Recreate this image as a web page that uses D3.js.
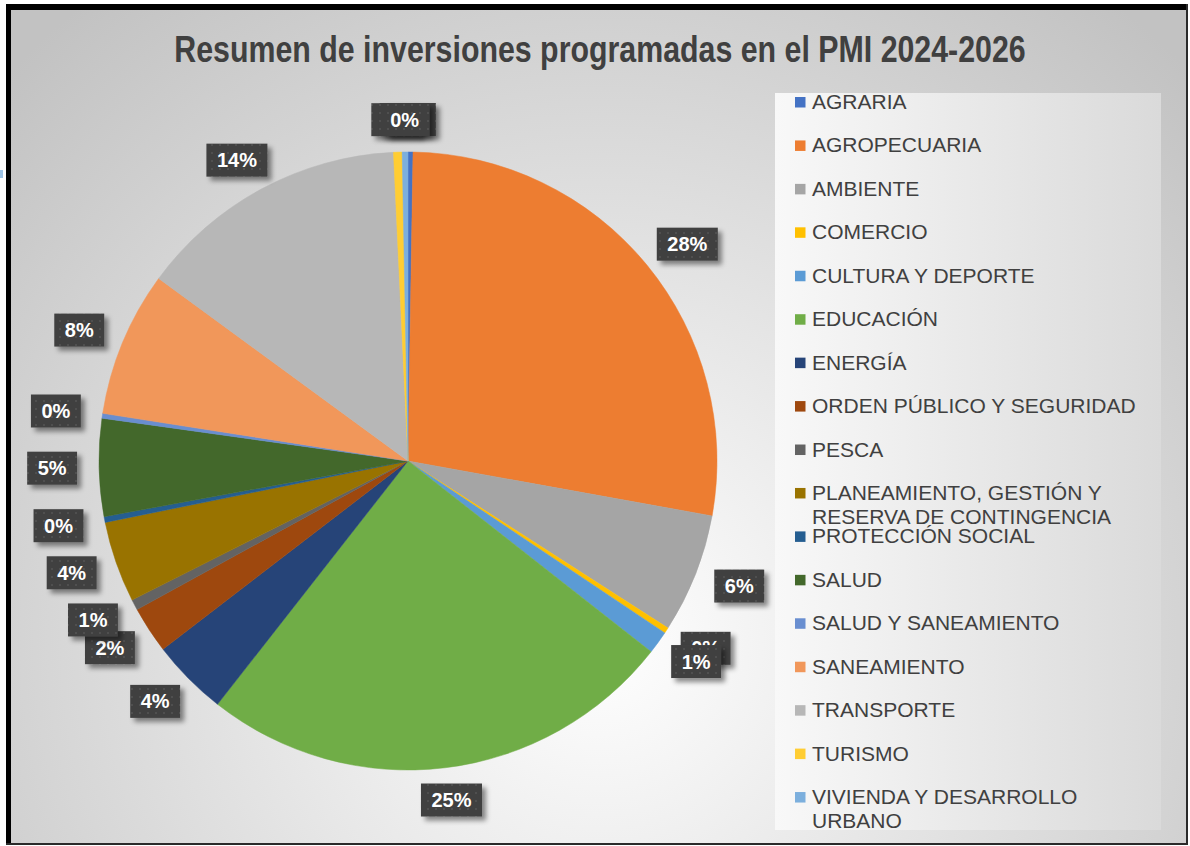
<!DOCTYPE html>
<html>
<head>
<meta charset="utf-8">
<script src="https://cdn.jsdelivr.net/npm/d3@7"></script>
<style>
  body { margin: 0; background: #ffffff; }
  text { font-family: "Liberation Sans", Arial, sans-serif; }
</style>
</head>
<body>
<script>
// categories and their share of the programmed investment
const categories = ["AGRARIA", "AGROPECUARIA", "AMBIENTE", "COMERCIO", "CULTURA Y DEPORTE",
  "EDUCACIÓN", "ENERGÍA", "ORDEN PÚBLICO Y SEGURIDAD", "PESCA",
  "PLANEAMIENTO, GESTIÓN Y RESERVA DE CONTINGENCIA", "PROTECCIÓN SOCIAL", "SALUD",
  "SALUD Y SANEAMIENTO", "SANEAMIENTO", "TRANSPORTE", "TURISMO", "VIVIENDA Y DESARROLLO URBANO"];
const shares = [0.26, 27.6, 6.25, 0.3, 1.2, 25.0, 4.0, 2.45, 0.55, 4.25, 0.3, 5.1, 0.25, 7.6, 14.2, 0.45, 0.3];

const colors = [
  "#4472C4", "#ED7D31", "#A5A5A5", "#FFC000", "#5B9BD5", "#70AD47", "#264478", "#9E480E",
  "#636363", "#997300", "#255E91", "#43682B", "#698ED0", "#F1975A", "#B7B7B7", "#FFCD33", "#7CAFDD"
];

const title = "Resumen de inversiones programadas en el PMI 2024-2026";

const width = 1190, height = 846;

const svg = d3.select("body")
  .append("svg")
  .attr("width", width)
  .attr("height", height);

const defs = svg.append("defs");

// chart area background: soft radial grey
const bg = defs.append("radialGradient")
  .attr("id", "bg")
  .attr("gradientUnits", "userSpaceOnUse")
  .attr("cx", 600).attr("cy", 640).attr("r", 820);
bg.append("stop").attr("offset", 0).attr("stop-color", "#ffffff");
bg.append("stop").attr("offset", 1).attr("stop-color", "#c2c2c2");

const lg = defs.append("linearGradient")
  .attr("id", "legbg")
  .attr("x1", 0).attr("y1", 0).attr("x2", 1).attr("y2", 0);
lg.append("stop").attr("offset", 0).attr("stop-color", "#f8f8f8");
lg.append("stop").attr("offset", 1).attr("stop-color", "#dadada");

// dotted dark fill of the data labels
const pat = defs.append("pattern")
  .attr("id", "dots")
  .attr("patternUnits", "userSpaceOnUse")
  .attr("width", 8).attr("height", 8);
pat.append("rect").attr("width", 8).attr("height", 8).attr("fill", "#404040");
pat.append("rect").attr("x", 3).attr("y", 3).attr("width", 2).attr("height", 2).attr("fill", "#505050");

const shadow = defs.append("filter")
  .attr("id", "shadow")
  .attr("x", "-30%").attr("y", "-30%").attr("width", "170%").attr("height", "170%");
shadow.append("feDropShadow")
  .attr("dx", 4).attr("dy", 4).attr("stdDeviation", 2.5)
  .attr("flood-color", "#000").attr("flood-opacity", 0.45);

// frame
svg.append("rect").attr("x", 11).attr("y", 10).attr("width", 1176).attr("height", 833)
  .attr("fill", "url(#bg)");
svg.append("rect").attr("x", 6).attr("y", 4).attr("width", 5).attr("height", 841).attr("fill", "#000");
svg.append("rect").attr("x", 6).attr("y", 4).attr("width", 1181).attr("height", 6).attr("fill", "#000");
svg.append("rect").attr("x", 1186).attr("y", 4).attr("width", 2).attr("height", 841).attr("fill", "#2a2a2a");
svg.append("rect").attr("x", 6).attr("y", 843).attr("width", 1182).attr("height", 2).attr("fill", "#2a2a2a");
svg.append("rect").attr("x", 0).attr("y", 170).attr("width", 3).attr("height", 8).attr("fill", "#9dc3e6");

// title
svg.append("text")
  .attr("x", 600)
  .attr("y", 62)
  .attr("text-anchor", "middle")
  .attr("transform", "translate(600, 0) scale(0.82, 1) translate(-600, 0)")
  .style("font-size", "37px")
  .style("font-weight", "bold")
  .style("fill", "#404040")
  .text(title);

// pie
const cx = 408, cy = 461, r = 309;
const total = d3.sum(shares);
const data = categories.map((c, i) => ({ name: c, value: shares[i], color: colors[i] }));

const pie = d3.pie().sort(null).value(d => d.value);
const arcs = pie(data);
const arc = d3.arc().innerRadius(0).outerRadius(r);

const g = svg.append("g").attr("transform", `translate(${cx}, ${cy})`);

g.selectAll("path")
  .data(arcs)
  .enter()
  .append("path")
  .attr("d", arc)
  .attr("fill", d => d.data.color)
  .attr("stroke", d => d.data.color)
  .attr("stroke-width", 0.5);

// data labels, outside end
const labels = g.selectAll("g.lbl")
  .data(arcs)
  .enter()
  .append("g")
  .attr("class", "lbl");

labels.each(function (d) {
  const lab = d3.select(this);
  const txt = lab.append("text")
    .attr("text-anchor", "middle")
    .style("font-size", "20px")
    .style("font-weight", "bold")
    .style("fill", "#ffffff")
    .text(Math.round(d.data.value / total * 100) + "%");
  const tw = txt.node().getComputedTextLength();
  const w = tw + 21, h = 33;
  const a = (d.startAngle + d.endAngle) / 2;
  const s = Math.sin(a), c = Math.cos(a);
  const ax = (r + 16) * s, ay = -(r + 16) * c;
  const bx = ax + s * (w / 2 + 6), by = ay - c * h / 2;
  lab.insert("rect", "text")
    .attr("x", bx - w / 2)
    .attr("y", by - h / 2)
    .attr("width", w)
    .attr("height", h)
    .attr("fill", "url(#dots)")
    .attr("filter", "url(#shadow)");
  txt.attr("x", bx).attr("y", by + 7);
});

// legend
const legX = 775, legY = 93;
svg.append("rect")
  .attr("x", legX).attr("y", legY)
  .attr("width", 386).attr("height", 737)
  .attr("fill", "url(#legbg)");

const step = 43.44;
const legend = svg.append("g");

categories.forEach(function (name, i) {
  const y = 101 + i * step;
  legend.append("rect")
    .attr("x", 795)
    .attr("y", y - 4)
    .attr("width", 10.5)
    .attr("height", 10.5)
    .attr("fill", colors[i]);

  const t = legend.append("text")
    .attr("x", 812)
    .attr("y", y + 8)
    .style("font-size", "21px")
    .style("fill", "#404040");

  // wrap long names like the original legend
  const words = name.split(" ");
  let line = [];
  let ts = t.append("tspan").attr("x", 812).attr("dy", 0);
  words.forEach(function (w) {
    line.push(w);
    ts.text(line.join(" "));
    if (ts.node().getComputedTextLength() > 338 && line.length > 1) {
      line.pop();
      ts.text(line.join(" "));
      line = [w];
      ts = t.append("tspan").attr("x", 812).attr("dy", 24).text(w);
    }
  });
});
</script>
</body>
</html>
